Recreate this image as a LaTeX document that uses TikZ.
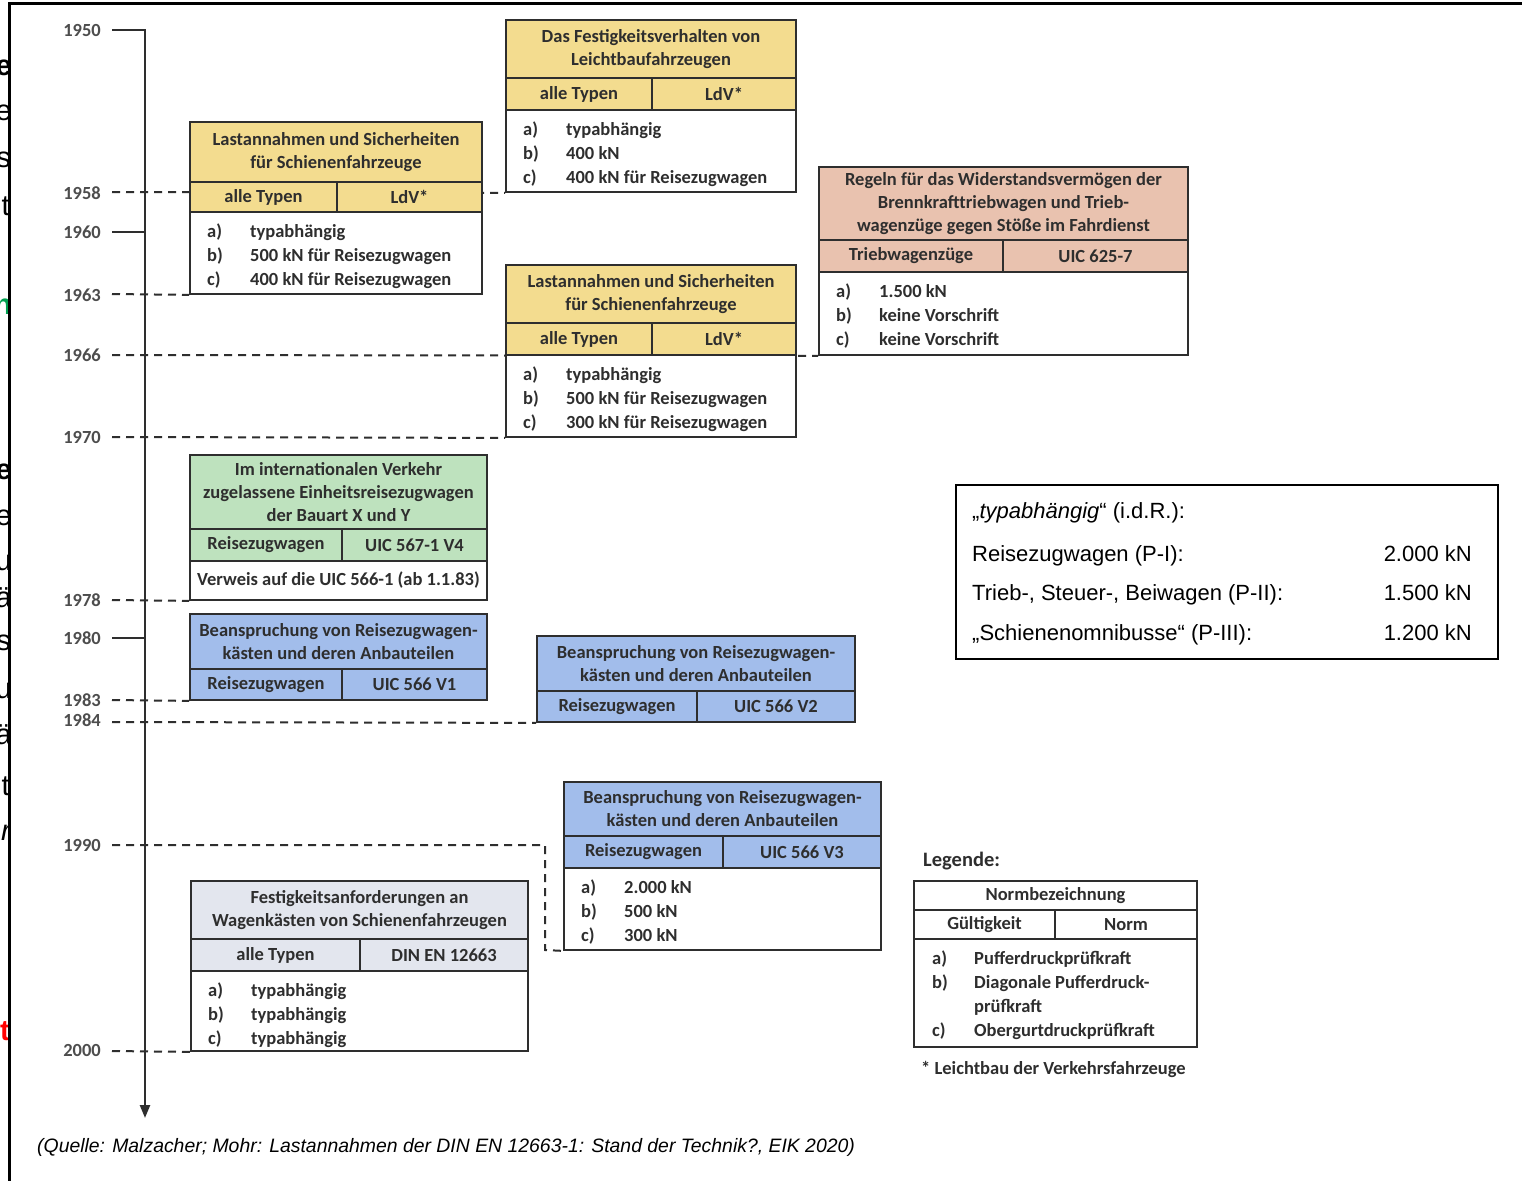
\documentclass[tikz,border=0pt]{standalone}
\usepackage{fontspec}
\setmainfont{Carlito}
\newfontfamily\arialf{Liberation Sans}
\usetikzlibrary{fit,calc,arrows.meta}
\pgfdeclarelayer{bg}
\pgfdeclarelayer{lines}
\pgfsetlayers{bg,lines,main}
\definecolor{ylw}{HTML}{F3DC8F}
\definecolor{pnk}{HTML}{E9C2AF}
\definecolor{grn}{HTML}{BEE2BE}
\definecolor{blu}{HTML}{A2BDEB}
\definecolor{gry}{HTML}{E3E6EE}
\definecolor{ink}{HTML}{2E2E2E}
\definecolor{grntxt}{HTML}{00A050}
\tikzset{
 boxline/.style={draw=ink, line width=1.8pt},
 divline/.style={draw=ink, line width=1.5pt},
 ttl/.style={font=\fontsize{18.5}{23}\selectfont\bfseries, text=ink, align=center, inner sep=0pt},
 cell/.style={font=\fontsize{18.5}{22}\selectfont\bfseries, text=ink, inner sep=0pt},
 cont/.style={font=\fontsize{18.5}{24}\selectfont\bfseries, text=ink, anchor=north west, inner sep=0pt, align=left},
 yrlab/.style={font=\fontsize{18.5}{22}\selectfont\bfseries, text=ink!85, anchor=east, inner sep=0pt},
 axisl/.style={draw=ink, line width=2.4pt},
 tickl/.style={draw=ink, line width=2pt},
 dsh/.style={draw=ink, line width=2pt, dash pattern=on 8pt off 6pt},
 frag/.style={font=\arialf\fontsize{29}{31}\selectfont, anchor=base east, inner sep=0pt},
 fragb/.style={font=\arialf\bfseries\fontsize{29}{31}\selectfont, anchor=base east, inner sep=0pt},
 arialtxt/.style={font=\arialf\fontsize{22}{26}\selectfont, inner sep=0pt},
}
% name, x1, y1, x2, y2, y title-bottom, y row-bottom, x divider, colour
\newcommand\nbox[9]{%
 \fill[#9] (#2,#3) rectangle (#4,#7);
 \fill[white] (#2,#7) rectangle (#4,#5);
 \draw[divline] (#2,#6) -- (#4,#6) (#2,#7) -- (#4,#7) (#8,#6) -- (#8,#7);
 \coordinate (#1-a) at (#2,#3); \coordinate (#1-b) at (#4,#6);
 \coordinate (#1-c) at (#2,#6); \coordinate (#1-d) at (#8,#7);
 \coordinate (#1-e) at (#8,#6); \coordinate (#1-f) at (#4,#7);
 \coordinate (#1-g) at (#2,#7); \coordinate (#1-h) at (#4,#5);
 \node[boxline, fit=(#1-a)(#1-h), inner sep=0pt] (#1) {};
}
\newcommand\btexts[4]{%
 \node[ttl] (#1-title) at ($(#1-a)!0.5!(#1-b)$) {#2};
 \node[cell] (#1-l) at ($(#1-c)!0.5!(#1-d)$) {#3};
 \node[cell] (#1-r) at ($(#1-e)!0.5!(#1-f)$) {#4};
}
\newcommand\bcont[4]{%
 \node[cont] (#1-list) at ($(#1-g)+(17,8)$) {\begin{tabular}{@{}p{43pt}@{}l@{}}a) & #2\\ b) & #3\\ c) & #4\end{tabular}};
}
\begin{document}
\begin{tikzpicture}[x=1pt,y=-1pt]
\useasboundingbox (0,0) rectangle (1522,1180);
\clip (0,0) rectangle (1522,1180);
\begin{pgfonlayer}{bg}
\fill[white] (0,0) rectangle (1522,1180);
\end{pgfonlayer}

% clipped fragments of background text at the left edge
\begin{scope}
\clip (0,0) rectangle (8,1180);
\node[fragb] (f1) at (12,76) {e};
\node[frag] (f2) at (12,121) {e};
\node[frag] (f3) at (11,167) {s};
\node[frag] (f4) at (10,215) {t};
\node[fragb, text=grntxt] (f5) at (12,314) {n};
\node[fragb] (f6) at (12,479) {e};
\node[frag] (f7) at (12,525) {e};
\node[frag] (f8) at (12,570) {u};
\node[frag] (f9) at (12,607) {ä};
\node[frag] (f10) at (11,650) {s};
\node[frag] (f11) at (12,698) {u};
\node[frag] (f12) at (12,744) {ä};
\node[frag] (f13) at (10,795) {t};
\node[frag, font=\arialf\itshape\fontsize{29}{31}\selectfont] (f14) at (11,840) {r};
\node[fragb, text=red] (f15) at (10,1040) {t};
\end{scope}

% frame
\draw[line width=3pt] (9,1190) -- (9,4) -- (1530,4);

% timeline
\coordinate (ax-top) at (145,30);
\coordinate (ax-bot) at (145,1118);
\coordinate (t1950) at (112,30);
\draw[axisl, -{Triangle[length=13pt,width=10pt]}] (t1950) -- (ax-top) -- (ax-bot);
\coordinate (t1960) at (112,232);
\coordinate (t1980) at (112,638);
\draw[tickl] (t1960) -- (t1960 -| ax-top);
\draw[tickl] (t1980) -- (t1980 -| ax-top);

\node[yrlab] (y1950) at (101,30) {1950};
\node[yrlab] (y1958) at (101,193) {1958};
\node[yrlab] (y1960) at (101,232) {1960};
\node[yrlab] (y1963) at (101,295) {1963};
\node[yrlab] (y1966) at (101,355) {1966};
\node[yrlab] (y1970) at (101,437) {1970};
\node[yrlab] (y1978) at (101,600) {1978};
\node[yrlab] (y1980) at (101,638) {1980};
\node[yrlab] (y1983) at (101,700) {1983};
\node[yrlab] (y1984) at (101,720) {1984};
\node[yrlab] (y1990) at (101,845) {1990};
\node[yrlab] (y2000) at (101,1050) {2000};

% boxes
\nbox{A}{190}{122}{482}{294}{182}{212}{337}{ylw}
\btexts{A}{Lastannahmen und Sicherheiten\\für Schienenfahrzeuge}{alle Typen}{LdV*}
\bcont{A}{typabhängig}{500 kN für Reisezugwagen}{400 kN für Reisezugwagen}

\nbox{B}{506}{20}{796}{192}{78}{110}{652}{ylw}
\btexts{B}{Das Festigkeitsverhalten von\\Leichtbaufahrzeugen}{alle Typen}{LdV*}
\bcont{B}{typabhängig}{400 kN}{400 kN für Reisezugwagen}

\nbox{C}{506}{265}{796}{437}{323}{355}{652}{ylw}
\btexts{C}{Lastannahmen und Sicherheiten\\für Schienenfahrzeuge}{alle Typen}{LdV*}
\bcont{C}{typabhängig}{500 kN für Reisezugwagen}{300 kN für Reisezugwagen}

\nbox{D}{819}{167}{1188}{355}{240}{272}{1003}{pnk}
\btexts{D}{Regeln für das Widerstandsvermögen der\\Brennkrafttriebwagen und Trieb-\\wagenzüge gegen Stöße im Fahrdienst}{Triebwagenzüge}{UIC 625-7}
\bcont{D}{1.500 kN}{keine Vorschrift}{keine Vorschrift}

\nbox{E}{190}{455}{487}{600}{529}{561}{342}{grn}
\btexts{E}{Im internationalen Verkehr\\zugelassene Einheitsreisezugwagen\\der Bauart X und Y}{Reisezugwagen}{UIC 567-1 V4}
\node[cell] (E-list) at ($(E-g)!0.5!(E-h)$) {Verweis auf die UIC 566-1 (ab 1.1.83)};

\nbox{F1}{190}{614}{487}{700}{669}{700}{342}{blu}
\btexts{F1}{Beanspruchung von Reisezugwagen-\\kästen und deren Anbauteilen}{Reisezugwagen}{UIC 566 V1}

\nbox{F2}{537}{636}{855}{722}{691}{722}{697}{blu}
\btexts{F2}{Beanspruchung von Reisezugwagen-\\kästen und deren Anbauteilen}{Reisezugwagen}{UIC 566 V2}

\nbox{F3}{564}{782}{881}{950}{836}{868}{723}{blu}
\btexts{F3}{Beanspruchung von Reisezugwagen-\\kästen und deren Anbauteilen}{Reisezugwagen}{UIC 566 V3}
\bcont{F3}{2.000 kN}{500 kN}{300 kN}

\nbox{G}{191}{881}{528}{1051}{939}{971}{360}{gry}
\btexts{G}{Festigkeitsanforderungen an\\Wagenkästen von Schienenfahrzeugen}{alle Typen}{DIN EN 12663}
\bcont{G}{typabhängig}{typabhängig}{typabhängig}

% legend
\node[anchor=base west, inner sep=0pt, font=\fontsize{20.5}{24}\selectfont\bfseries, text=ink] (leg) at (923,866) {Legende:};
\nbox{L}{914}{881}{1197}{1047}{910}{939}{1055}{white}
\btexts{L}{Normbezeichnung}{Gültigkeit}{Norm}
\node[cont] (L-list) at ($(L-g)+(18,8)$) {\begin{tabular}{@{}p{42pt}@{}l@{}}a) & Pufferdruckprüfkraft\\ b) & Diagonale Pufferdruck-\\ & prüfkraft\\ c) & Obergurtdruckprüfkraft\end{tabular}};
\node[anchor=base west, inner sep=0pt, font=\fontsize{18.5}{22}\selectfont\bfseries, text=ink] (foot) at (921,1074) {* Leichtbau der Verkehrsfahrzeuge};

% dashed year lines (behind boxes)
\begin{pgfonlayer}{lines}
\coordinate (t1958) at (112,192);
\coordinate (t1963) at (112,294);
\coordinate (t1966) at (112,355);
\coordinate (t1970) at (112,437);
\coordinate (t1978) at (112,600);
\coordinate (t1983) at (112,700);
\coordinate (t1984) at (112,722);
\coordinate (t1990) at (112,845);
\coordinate (t2000) at (112,1051);
\coordinate (bend1) at (545,845);
\coordinate (bend2) at (545,950);
\draw[dsh] (t1958) -- (B.south west);
\draw[dsh] (t1963) -- (A.south west);
\draw[dsh] (t1966) -- (D.south west);
\draw[dsh] (t1970) -- (C.south west);
\draw[dsh] (t1978) -- (E.south west);
\draw[dsh] (t1983) -- (F1.south west);
\draw[dsh] (t1984) -- (F2.south west);
\draw[dsh] (t1990) -- (bend1) -- (bend2) -- (F3.south west);
\draw[dsh] (t2000) -- (G.south west);
\end{pgfonlayer}

% info box
\node[draw, line width=1.5pt, minimum width=542pt, minimum height=174pt, anchor=north west, inner sep=0pt] (info) at (955,484) {};
\node[arialtxt, anchor=base west] (i1) at (972,518) {„\textit{typabhängig}“ (i.d.R.):};
\node[arialtxt, anchor=base west] (i2) at (972,561) {Reisezugwagen (P-I):};
\node[arialtxt, anchor=base west] (i3) at (972,600) {Trieb-, Steuer-, Beiwagen (P-II):};
\node[arialtxt, anchor=base west] (i4) at (972,640) {„Schienenomnibusse“ (P-III):};
\node[arialtxt, anchor=base east] (v2) at (1472,561) {2.000 kN};
\node[arialtxt, anchor=base east] (v3) at (1472,600) {1.500 kN};
\node[arialtxt, anchor=base east] (v4) at (1472,640) {1.200 kN};

% source
\node[anchor=base west, inner sep=0pt, font=\arialf\itshape\fontsize{19.4}{22}\selectfont] (src) at (37,1152) {(Quelle: Malzacher; Mohr: Lastannahmen der DIN EN 12663-1: Stand der Technik?, EIK 2020)};
\end{tikzpicture}
\end{document}
